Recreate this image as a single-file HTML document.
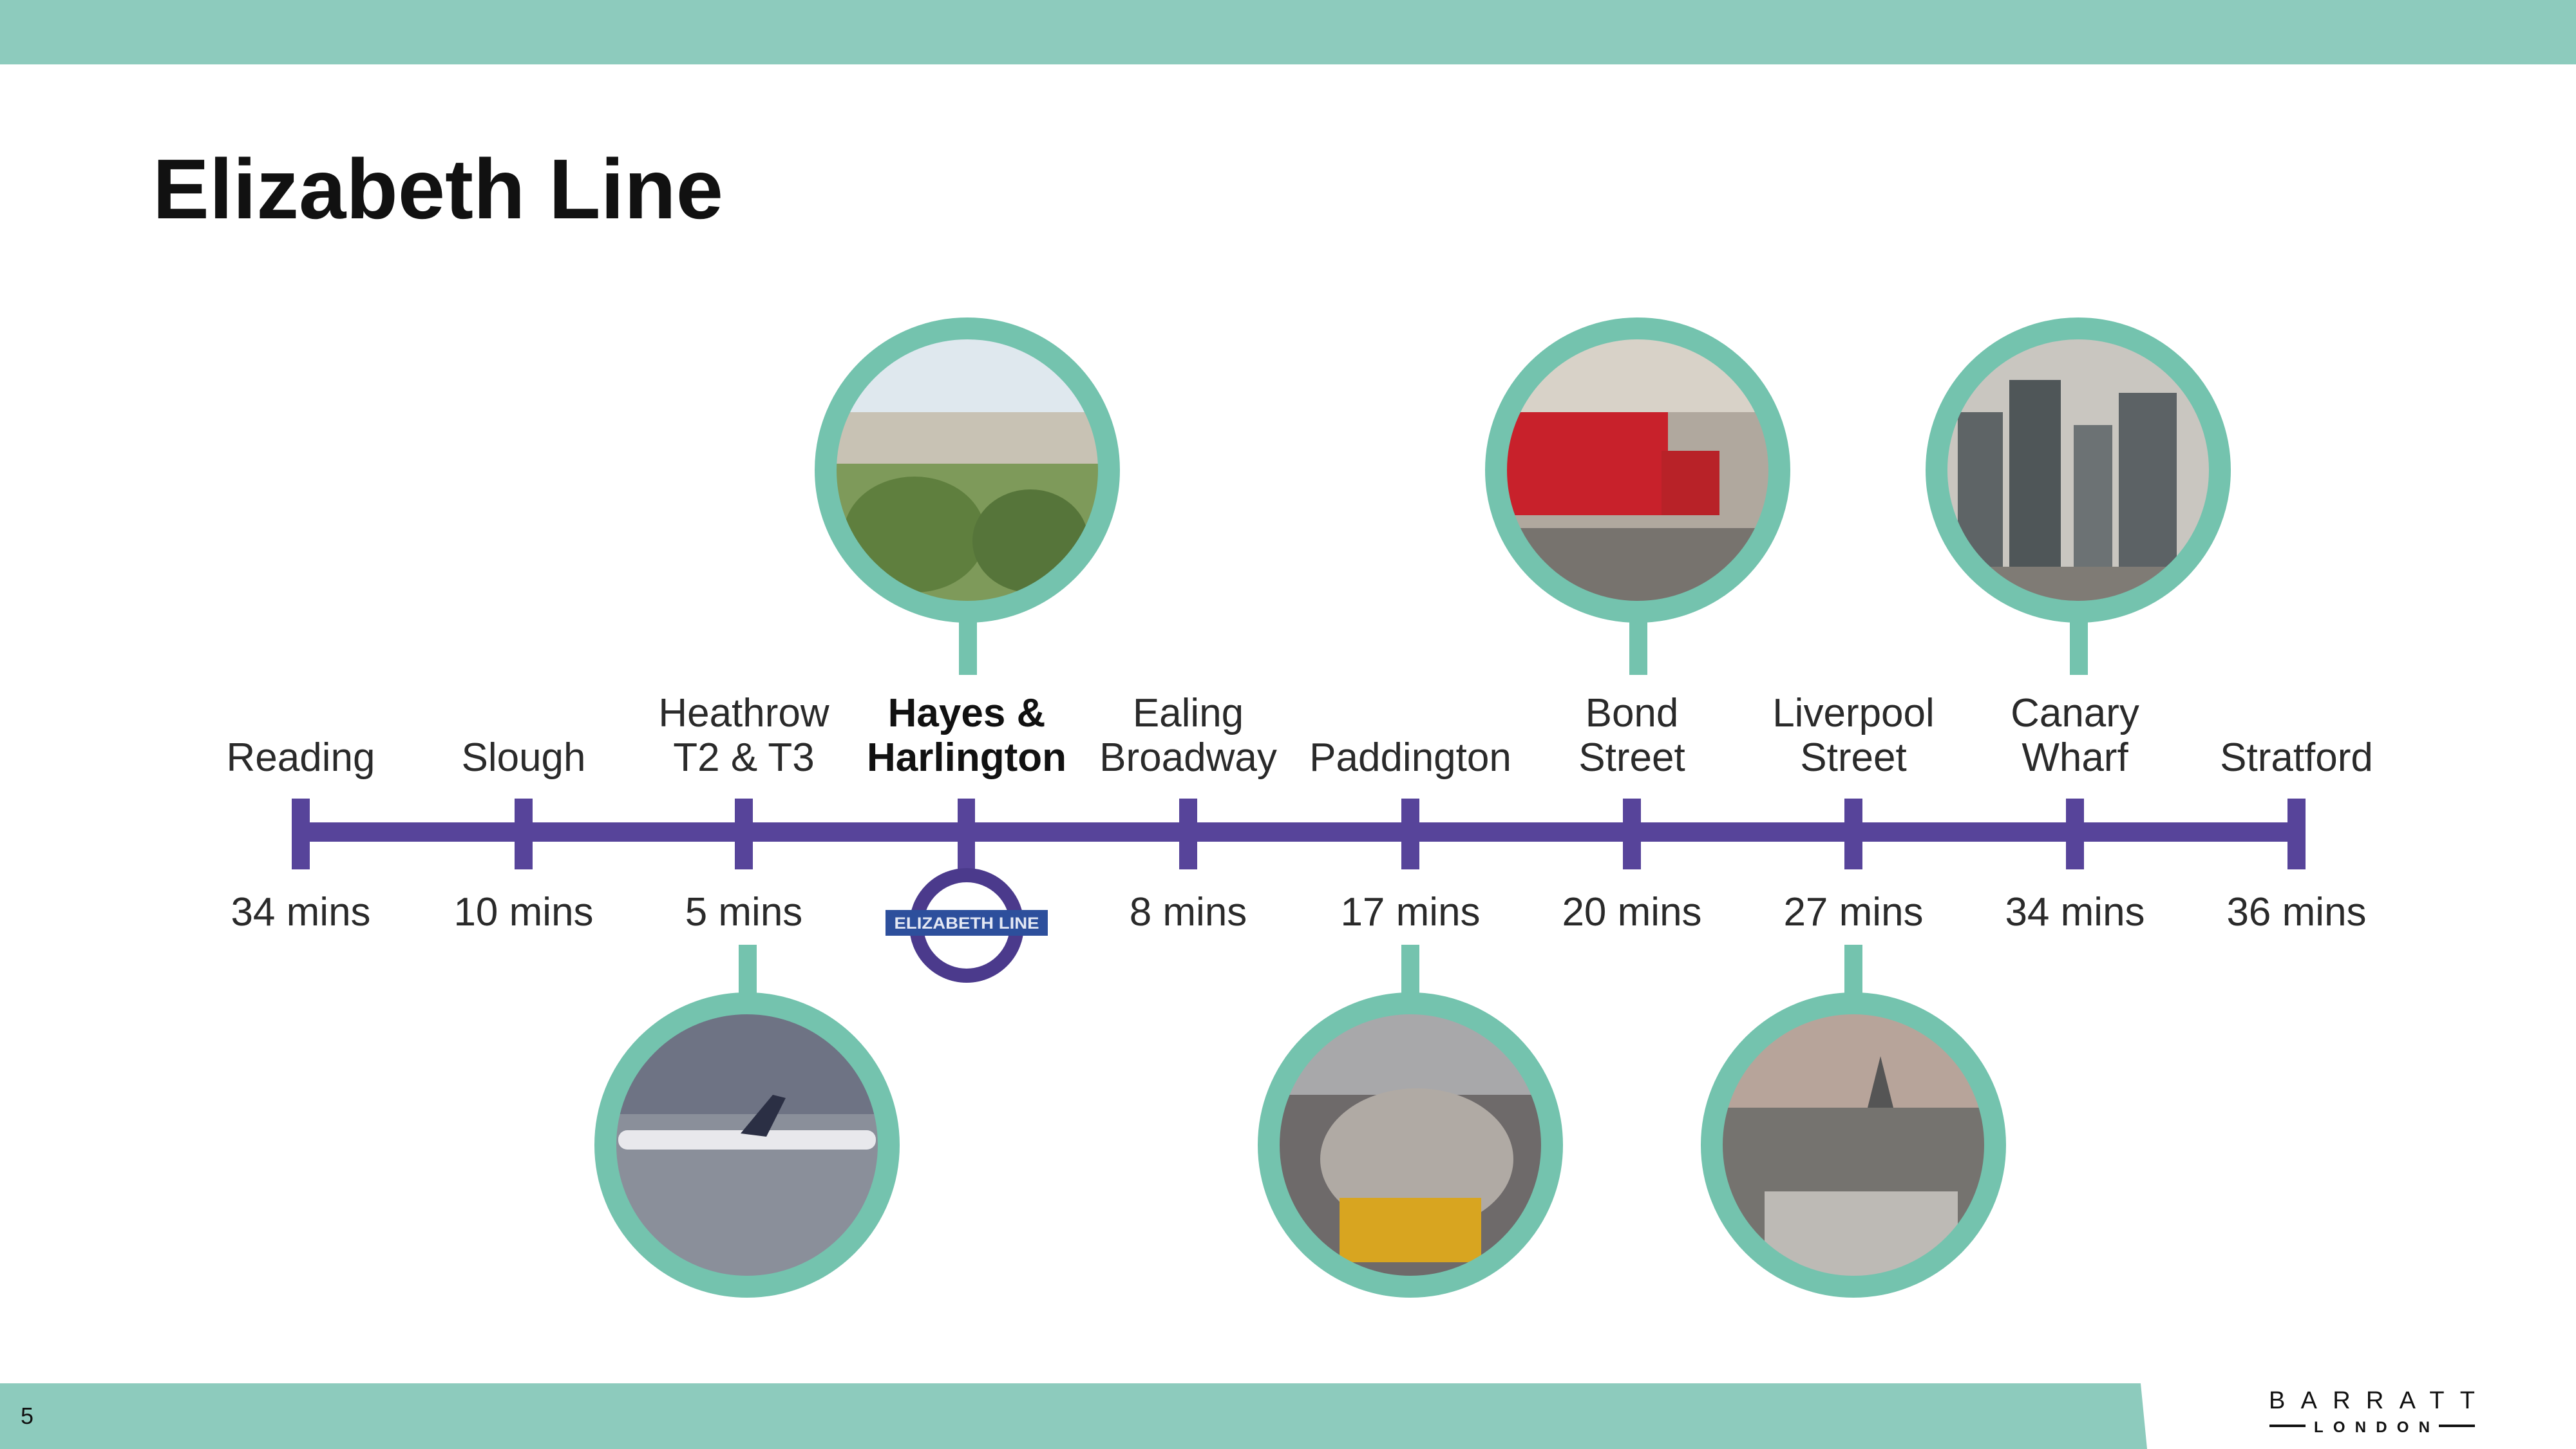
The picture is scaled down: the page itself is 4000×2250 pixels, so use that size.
<!DOCTYPE html>
<html><head><meta charset="utf-8"><style>
html,body{margin:0;padding:0;background:#fff;}
svg{display:block;}
text{font-family:"Liberation Sans",sans-serif;}
</style></head><body>
<svg width="4000" height="2250" viewBox="0 0 4000 2250" xmlns="http://www.w3.org/2000/svg">
<defs>
<clipPath id="c1"><circle cx="1502" cy="730" r="204"/></clipPath>
<clipPath id="c2"><circle cx="2543" cy="730" r="204"/></clipPath>
<clipPath id="c3"><circle cx="3227" cy="730" r="204"/></clipPath>
<clipPath id="c4"><circle cx="1160" cy="1778" r="204"/></clipPath>
<clipPath id="c5"><circle cx="2190" cy="1778" r="204"/></clipPath>
<clipPath id="c6"><circle cx="2878" cy="1778" r="204"/></clipPath>
</defs>
<rect x="0" y="0" width="4000" height="100" fill="#8dcbbd"/>
<text x="237" y="339" font-size="132" font-weight="bold" fill="#111" textLength="886" lengthAdjust="spacingAndGlyphs" font-family="Liberation Serif, serif">Elizabeth Line</text>

<!-- stems -->
<g fill="#74c3ae">
<rect x="1489" y="960" width="28" height="88"/>
<rect x="2530" y="960" width="28" height="88"/>
<rect x="3214" y="960" width="28" height="88"/>
<rect x="1147" y="1467" width="28" height="80"/>
<rect x="2176" y="1467" width="28" height="80"/>
<rect x="2864" y="1467" width="28" height="80"/>
</g>

<!-- photos -->
<g clip-path="url(#c1)">
<rect x="1290" y="520" width="420" height="420" fill="#dfe8ee"/>
<rect x="1290" y="640" width="420" height="90" fill="#c8c2b4"/>
<rect x="1290" y="720" width="420" height="220" fill="#7e9a5a"/>
<ellipse cx="1420" cy="830" rx="110" ry="90" fill="#5f7f3e"/>
<ellipse cx="1600" cy="840" rx="90" ry="80" fill="#56753a"/>
</g>
<g clip-path="url(#c2)">
<rect x="2330" y="520" width="420" height="420" fill="#b0a89e"/>
<rect x="2330" y="520" width="420" height="120" fill="#d8d2c8"/>
<rect x="2330" y="640" width="260" height="160" fill="#c8212b"/>
<rect x="2580" y="700" width="90" height="100" fill="#b82228"/>
<rect x="2330" y="820" width="420" height="120" fill="#77736e"/>
</g>
<g clip-path="url(#c3)">
<rect x="3020" y="520" width="420" height="420" fill="#c9c6c0"/>
<rect x="3040" y="640" width="70" height="260" fill="#5e6466"/>
<rect x="3120" y="590" width="80" height="310" fill="#4f5658"/>
<rect x="3220" y="660" width="60" height="240" fill="#6c7274"/>
<rect x="3290" y="610" width="90" height="290" fill="#5c6265"/>
<rect x="3020" y="880" width="420" height="60" fill="#7f7b75"/>
</g>
<g clip-path="url(#c4)">
<rect x="950" y="1570" width="420" height="420" fill="#8a8f9a"/>
<rect x="950" y="1570" width="420" height="160" fill="#6e7384"/>
<rect x="960" y="1755" width="400" height="30" rx="14" fill="#e8e8ec"/>
<polygon points="1150,1760 1200,1700 1220,1705 1190,1765" fill="#2b2f44"/>
</g>
<g clip-path="url(#c5)">
<rect x="1980" y="1570" width="420" height="420" fill="#6e6a6a"/>
<rect x="1980" y="1570" width="420" height="130" fill="#a8a8aa"/>
<ellipse cx="2200" cy="1800" rx="150" ry="110" fill="#b0aaa4"/>
<rect x="2080" y="1860" width="220" height="100" fill="#d8a520"/>
</g>
<g clip-path="url(#c6)">
<rect x="2670" y="1570" width="420" height="420" fill="#a99482"/>
<rect x="2670" y="1570" width="420" height="150" fill="#b7a49a"/>
<rect x="2670" y="1720" width="420" height="270" fill="#75736f"/>
<polygon points="2900,1720 2920,1640 2940,1720" fill="#555"/>
<rect x="2740" y="1850" width="300" height="140" fill="#bdbab5"/>
</g>

<!-- rings -->
<g fill="none" stroke="#74c3ae" stroke-width="34">
<circle cx="1502" cy="730" r="220"/>
<circle cx="2543" cy="730" r="220"/>
<circle cx="3227" cy="730" r="220"/>
<circle cx="1160" cy="1778" r="220"/>
<circle cx="2190" cy="1778" r="220"/>
<circle cx="2878" cy="1778" r="220"/>
</g>

<!-- line -->
<rect x="467" y="1277" width="3099" height="30" fill="#57449a"/>
<g fill="#57449a">
<rect x="453" y="1240" width="28" height="110"/>
<rect x="799" y="1240" width="28" height="110"/>
<rect x="1141" y="1240" width="28" height="110"/>
<rect x="1487" y="1240" width="27" height="120"/>
<rect x="1831" y="1240" width="28" height="110"/>
<rect x="2176" y="1240" width="28" height="110"/>
<rect x="2520" y="1240" width="28" height="110"/>
<rect x="2864" y="1240" width="28" height="110"/>
<rect x="3208" y="1240" width="28" height="110"/>
<rect x="3552" y="1240" width="28" height="110"/>
</g>
<!-- roundel -->
<circle cx="1501" cy="1437" r="78" fill="none" stroke="#4b3a8c" stroke-width="22"/>
<rect x="1375" y="1413" width="252" height="40" fill="#2d4f9c"/>
<text x="1501" y="1442" font-size="25" font-weight="bold" fill="#e4e8f4" text-anchor="middle" textLength="225" lengthAdjust="spacingAndGlyphs">ELIZABETH LINE</text>

<!-- labels -->
<g font-size="62" fill="#2a2a2a" text-anchor="middle">
<text x="467" y="1197">Reading</text>
<text x="813" y="1197">Slough</text>
<text x="1155" y="1128">Heathrow</text>
<text x="1155" y="1197">T2 &amp; T3</text>
<text x="1501" y="1128" font-weight="bold" fill="#111">Hayes &amp;</text>
<text x="1501" y="1197" font-weight="bold" fill="#111">Harlington</text>
<text x="1845" y="1128">Ealing</text>
<text x="1845" y="1197">Broadway</text>
<text x="2190" y="1197">Paddington</text>
<text x="2534" y="1128">Bond</text>
<text x="2534" y="1197">Street</text>
<text x="2878" y="1128">Liverpool</text>
<text x="2878" y="1197">Street</text>
<text x="3222" y="1128">Canary</text>
<text x="3222" y="1197">Wharf</text>
<text x="3566" y="1197">Stratford</text>

<text x="467" y="1437">34 mins</text>
<text x="813" y="1437">10 mins</text>
<text x="1155" y="1437">5 mins</text>
<text x="1845" y="1437">8 mins</text>
<text x="2190" y="1437">17 mins</text>
<text x="2534" y="1437">20 mins</text>
<text x="2878" y="1437">27 mins</text>
<text x="3222" y="1437">34 mins</text>
<text x="3566" y="1437">36 mins</text>
</g>

<!-- bottom bar -->
<polygon points="0,2148 3324,2148 3334,2250 0,2250" fill="#8dcbbd"/>
<text x="32" y="2211" font-size="36" fill="#111">5</text>

<!-- logo -->
<text x="3523" y="2187" font-size="38" fill="#111" textLength="320" lengthAdjust="spacing">BARRATT</text>
<rect x="3524" y="2212" width="56" height="4" fill="#111"/>
<rect x="3787" y="2212" width="56" height="4" fill="#111"/>
<text x="3683" y="2224" font-size="24" font-weight="bold" fill="#111" text-anchor="middle" textLength="180" lengthAdjust="spacing">LONDON</text>
</svg>
</body></html>
